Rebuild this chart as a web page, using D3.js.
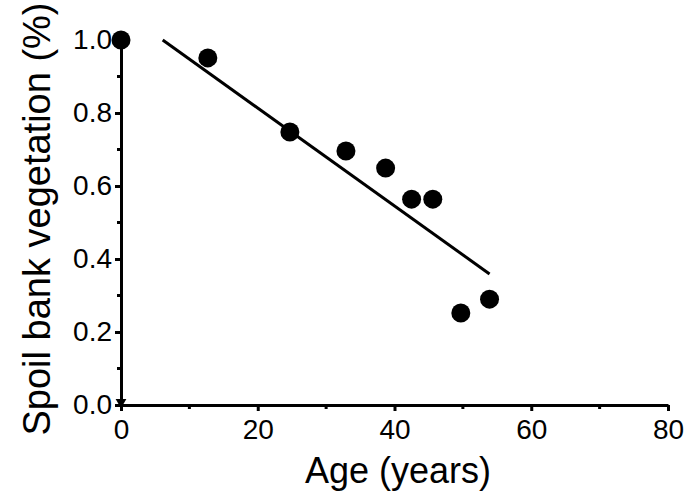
<!DOCTYPE html>
<html>
<head>
  <meta charset="utf-8">
  <script src="https://d3js.org/d3.v7.min.js"></script>
  <style>
    body { margin: 0; background: #fff; }
    text { font-family: "Liberation Sans", Arial, sans-serif; fill: #000; }
  </style>
</head>
<body>
  <script>
    // data
    var ageYears = [0, 12.7, 24.7, 32.9, 38.7, 42.5, 45.6, 49.7, 53.9];
    var vegetation = [1.0, 0.951, 0.748, 0.696, 0.649, 0.564, 0.564, 0.252, 0.290];
    var fitAge = [6.1, 53.9];
    var fitVegetation = [1.0, 0.359];
    var triangleAge = [0];
    var triangleVeg = [0];
    var xTicks = [0, 20, 40, 60, 80];
    var xMinor = [10, 30, 50, 70];
    var yTicks = [0, 0.2, 0.4, 0.6, 0.8, 1.0];
    var yMinor = [0.1, 0.3, 0.5, 0.7, 0.9];

    var width = 685, height = 500;
    var svg = d3.select("body").append("svg")
      .attr("width", width)
      .attr("height", height);

    var x = d3.scaleLinear().domain([0, 80]).range([121, 668]);
    var y = d3.scaleLinear().domain([0, 1]).range([405, 40]);

    // axes
    var xAxis = d3.axisBottom(x).tickValues(xTicks).tickFormat(d3.format("d"))
      .tickSizeInner(6).tickSizeOuter(0).tickPadding(4);
    var gx = svg.append("g")
      .attr("transform", "translate(0," + y(0) + ")")
      .call(xAxis);
    gx.selectAll("line.minor").data(xMinor).enter()
      .append("line")
      .attr("class", "minor")
      .attr("x1", function(d) { return x(d); })
      .attr("x2", function(d) { return x(d); })
      .attr("y1", 0).attr("y2", 4)
      .attr("stroke", "#000").attr("stroke-width", 3);

    var yAxis = d3.axisLeft(y).tickValues(yTicks).tickFormat(d3.format(".1f"))
      .tickSizeInner(6).tickSizeOuter(0).tickPadding(3);
    var gy = svg.append("g")
      .attr("transform", "translate(" + x(0) + ",0)")
      .call(yAxis);
    gy.selectAll("line.minor").data(yMinor).enter()
      .append("line")
      .attr("class", "minor")
      .attr("x1", 0).attr("x2", -4)
      .attr("y1", function(d) { return y(d); })
      .attr("y2", function(d) { return y(d); })
      .attr("stroke", "#000").attr("stroke-width", 3);

    svg.selectAll(".domain").attr("stroke-width", 3).attr("stroke", "#000");
    svg.selectAll(".tick line").attr("stroke-width", 3).attr("stroke", "#000");
    svg.selectAll(".tick text").style("font-size", "28px").attr("fill", "#000");
    gx.selectAll(".tick text").attr("dy", "0.85em");

    // titles
    svg.append("text")
      .attr("x", 398).attr("y", 483)
      .attr("text-anchor", "middle")
      .style("font-size", "36px")
      .text("Age (years)");

    svg.append("text")
      .attr("transform", "translate(50,219) rotate(-90)")
      .attr("text-anchor", "middle")
      .style("font-size", "38px")
      .text("Spoil bank vegetation (%)");

    // regression line
    svg.append("line")
      .attr("x1", x(fitAge[0])).attr("y1", y(fitVegetation[0]))
      .attr("x2", x(fitAge[1])).attr("y2", y(fitVegetation[1]))
      .attr("stroke", "#000").attr("stroke-width", 3);

    // points
    svg.append("g").selectAll("circle")
      .data(ageYears)
      .enter().append("circle")
      .attr("cx", function(d) { return x(d); })
      .attr("cy", function(d, i) { return y(vegetation[i]); })
      .attr("r", 9.5)
      .attr("fill", "#000");

    svg.append("g").selectAll("path")
      .data(triangleAge)
      .enter().append("path")
      .attr("d", d3.symbol().type(d3.symbolTriangle).size(50))
      .attr("transform", function(d, i) {
        return "translate(" + x(d) + "," + (y(triangleVeg[i]) - 3) + ") rotate(180)";
      })
      .attr("fill", "#000");
  </script>
</body>
</html>
